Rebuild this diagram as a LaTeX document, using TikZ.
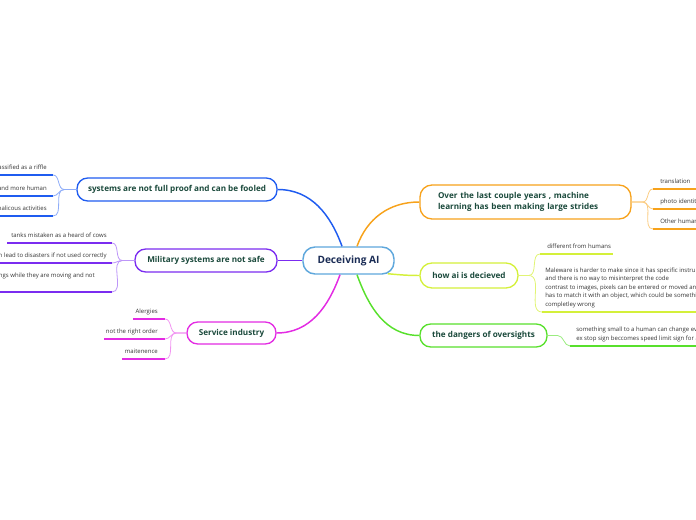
\documentclass[tikz,border=0pt]{standalone}
\usepackage{fontspec}
\setmainfont{Open Sans}
\usetikzlibrary{calc}
\definecolor{cBlue}{HTML}{1F5CF0}
\definecolor{cPurple}{HTML}{7B2CF0}
\definecolor{cMag}{HTML}{E32BE3}
\definecolor{cOrange}{HTML}{F7A21B}
\definecolor{cYellow}{HTML}{D4F03A}
\definecolor{cGreen}{HTML}{58E02C}
\definecolor{cCenter}{HTML}{5EA7DC}
\definecolor{tGreen}{HTML}{1B4A3C}
\definecolor{tNavy}{HTML}{1A2C55}
\definecolor{tLeaf}{HTML}{333333}
\tikzset{
  cnode/.style={draw=cCenter, fill=white, line width=1.1pt, rounded corners=9pt, inner sep=0pt,
    minimum width=68.25pt, minimum height=20.25pt, text=tNavy, font=\fontsize{7.6}{9}\selectfont\bfseries},
  mnode/.style={draw=#1, fill=white, line width=1pt, rounded corners=8pt, inner sep=0pt,
    text=tGreen, font=\fontsize{6.1}{8.6}\selectfont\bfseries},
  leafR/.style={anchor=south west, inner ysep=4.1pt, text depth=0pt, text=tLeaf, align=left,
    font=\fontsize{4.5}{6.4}\selectfont},
  leafL/.style={anchor=south east, inner ysep=4.1pt, text depth=0pt, text=tLeaf, align=right,
    font=\fontsize{4.5}{6.4}\selectfont},
  ul/.style={draw=#1, line width=1.1pt},
  lk/.style={draw=#1, line width=0.6pt},
  br/.style={draw=#1, line width=1.1pt},
}
\begin{document}
\begin{tikzpicture}[x=0.75pt,y=-0.75pt]
\useasboundingbox (0,0) rectangle (696,520);
% central
\node[cnode] (c) at (348.5,260.5) {Deceiving AI};
% main nodes
\node[mnode=cBlue, minimum width=150pt, minimum height=17.25pt] (sys) at (177,189.5) {systems are not full proof and can be fooled};
\node[mnode=cPurple, minimum width=106.5pt, minimum height=17.25pt] (mil) at (206,260.5) {Military systems are not safe};
\node[mnode=cMag, minimum width=66.75pt, minimum height=16.5pt] (svc) at (231.5,333) {Service industry};
\node[mnode=cOrange, minimum width=158.25pt, minimum height=25.5pt, rounded corners=9pt, align=left, text width=131.25pt] (ml) at (525.5,202) {Over the last couple years , machine\\learning has been making large strides};
\node[mnode=cYellow, minimum width=73.5pt, minimum height=18.75pt, rounded corners=9pt] (how) at (469,275.5) {how ai is decieved};
\node[mnode=cGreen, minimum width=95.25pt, minimum height=17.25pt] (dang) at (483.5,335.5) {the dangers of oversights};
% main connectors
\draw[br=cOrange] ($(c.north)+(8.5,0)$) to[out=70,in=180] (ml.west);
\draw[br=cBlue] ($(c.north)+(-6.5,0)$) to[out=110,in=0] (sys.east);
\draw[br=cGreen] ($(c.south)+(8.5,0)$) to[out=-70,in=180] (dang.west);
\draw[br=cMag] ($(c.south)+(-8.5,0)$) to[out=-110,in=0] (svc.east);
\draw[br=cYellow] ($(c.south east)+(-7,-1)$) to[out=-5,in=180] (how.west);
\draw[br=cPurple] (c.west) -- (mil.east);
% orange leaves
\node[leafR, inner xsep=5.25pt] (o1) at (653,189) {translation};
\node[leafR, inner xsep=5.25pt] (o2) at (653,209) {photo identity};
\node[leafR, inner xsep=5.25pt] (o3) at (653,229) {Other human};
\coordinate (mlF) at ($(ml.east)+(11,0)$);
\foreach \n in {o1,o2,o3}{
  \draw[lk=cOrange!55] (ml.east) -- (mlF) to[out=0,in=180] (\n.south west);
  \draw[ul=cOrange] (\n.south west) -- ++(60,0);
}
% yellow leaves
\node[leafR, inner xsep=5.25pt] (y1) at (540,254) {different from humans};
\node[leafR, inner xsep=2.25pt] (y2) at (542,312) {Maleware is harder to make since it has specific instru\\and there is no way to misinterpret the code\\contrast to images, pixels can be entered or moved an\\has to match it with an object, which could be somethi\\completley wrong};
\coordinate (howF) at ($(how.east)+(10,0)$);
\draw[lk=cYellow!70] (how.east) -- (howF) to[out=0,in=180] (y1.south west);
\draw[lk=cYellow!70] (how.east) -- (howF) to[out=0,in=180] (y2.south west);
\draw[ul=cYellow] (y1.south west) -- ++(73,0);
\draw[ul=cYellow] (y2.south west) -- ++(160,0);
% green leaf
\node[leafR, inner xsep=4.5pt] (g1) at (570,346) {something small to a human can change ev\\ex stop sign beccomes speed limit sign for a};
\coordinate (dangF) at ($(dang.east)+(10,0)$);
\draw[lk=cGreen!60] (dang.east) -- (dangF) to[out=0,in=180] (g1.south west);
\draw[ul=cGreen] (g1.south west) -- ++(130,0);
% blue leaves
\node[leafL, inner xsep=4.5pt] (b1) at (53,175) {assified as a riffle};
\node[leafL, inner xsep=4.5pt] (b2) at (53,196) {and more human};
\node[leafL, inner xsep=4.5pt] (b3) at (53,216) {malicous activities};
\coordinate (sysF) at ($(sys.west)+(-12,0)$);
\foreach \n in {b1,b2,b3}{
  \draw[lk=cBlue!50] (sys.west) -- (sysF) to[out=180,in=0] (\n.south east);
  \draw[ul=cBlue] (\n.south east) -- ++(-60,0);
}
% purple leaves
\node[leafL, inner xsep=3.75pt] (p1) at (112,243) {tanks mistaken as a heard of cows};
\node[leafL, inner xsep=3.75pt] (p2) at (112,263) {n lead to disasters if not used correctly};
\node[leafL, inner xsep=12.75pt, inner ysep=10.5pt] (p3) at (112,292) {ngs while they are moving and not};
\coordinate (milF) at ($(mil.west)+(-12,0)$);
\foreach \n in {p1,p2,p3}{
  \draw[lk=cPurple!50] (mil.west) -- (milF) to[out=180,in=0] (\n.south east);
}
\draw[ul=cPurple] (p1.south east) -- ++(-105,0);
\draw[ul=cPurple] (p2.south east) -- ++(-115,0);
\draw[ul=cPurple] (p3.south east) -- ++(-115,0);
% magenta leaves
\node[leafL, inner xsep=5.25pt] (m1) at (165,319) {Alergies};
\node[leafL, inner xsep=5.25pt] (m2) at (165,339) {not the right order};
\node[leafL, inner xsep=5.25pt] (m3) at (165,359) {maitenence};
\coordinate (svcF) at ($(svc.west)+(-10,0)$);
\draw[lk=cMag!50] (svc.west) -- (svcF) to[out=180,in=0] (m1.south east);
\draw[lk=cMag!50] (svc.west) -- (svcF) to[out=180,in=0] (m2.south east);
\draw[lk=cMag!50] (svc.west) -- (svcF) to[out=180,in=0] (m3.south east);
\draw[ul=cMag] (m1.south east) -- ++(-32,0);
\draw[ul=cMag] (m2.south east) -- ++(-61,0);
\draw[ul=cMag] (m3.south east) -- ++(-43,0);
\end{tikzpicture}
\end{document}
